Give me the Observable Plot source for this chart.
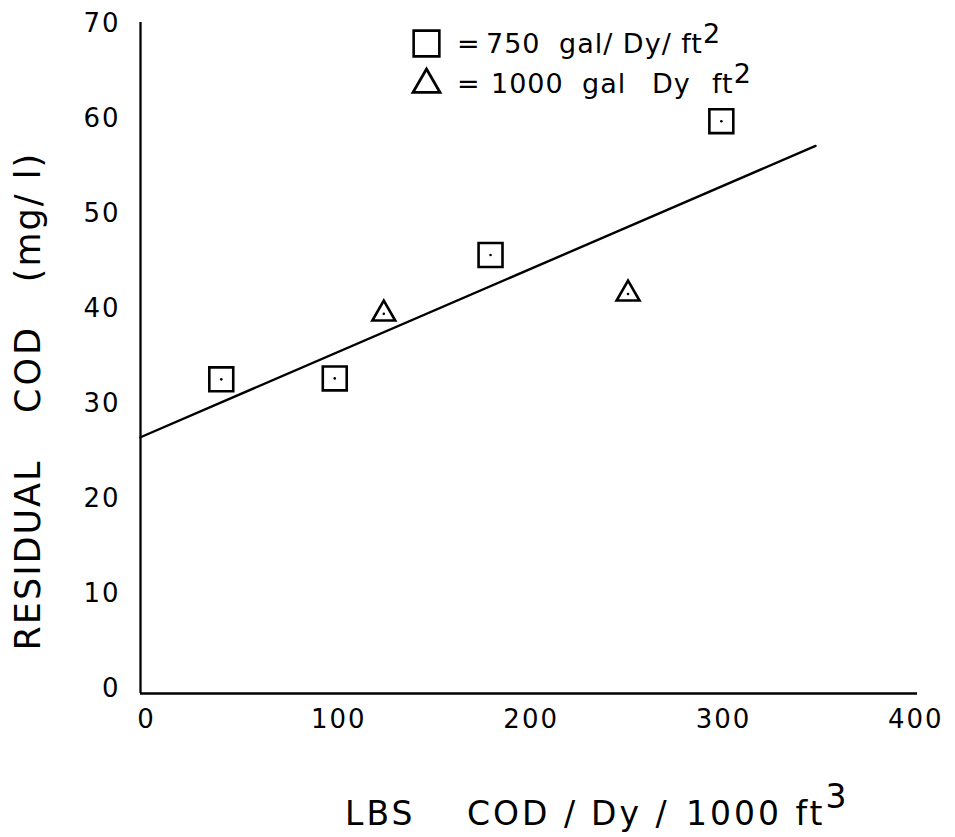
<!DOCTYPE html>
<html>
<head>
<meta charset="utf-8">
<script src="https://cdn.jsdelivr.net/npm/d3@7"></script>
<script src="https://cdn.jsdelivr.net/npm/@observablehq/plot@0.6"></script>
<style>
  html, body { margin: 0; padding: 0; background: #fff; }
  #wrap { position: relative; width: 955px; height: 837px; overflow: hidden; font-family: "DejaVu Sans", sans-serif; color: #000; }
  #wrap svg text { letter-spacing: 2px; }
  .t { position: absolute; white-space: pre; line-height: 1; }
  .lg { font-size: 27px; letter-spacing: 1px; }
  .xt { font-size: 33px; letter-spacing: 3px; }
  .up { position: relative; }
  .yt { position: absolute; left: 28px; white-space: pre; line-height: 1; font-size: 35px;
        transform: translate(-50%, -50%) rotate(-90deg); }
</style>
</head>
<body>
<div id="wrap">
  <div id="chart"></div>
  <!-- y axis title, one word group at a time -->
  <span class="yt" style="top:555px; letter-spacing:2px">RESIDUAL</span>
  <span class="yt" style="top:369px; letter-spacing:3px">COD</span>
  <span class="yt" style="top:217px; letter-spacing:2px">(mg/ l)</span>
  <!-- legend rows -->
  <span class="t lg" style="left:457px; top:30px">=</span>
  <span class="t lg" style="left:486px; top:30px">750</span>
  <span class="t lg" style="left:559px; top:30px">gal/ Dy/ ft<span class="up" style="top:-10px">2</span></span>
  <span class="t lg" style="left:457px; top:70px">=</span>
  <span class="t lg" style="left:491px; top:70px">1000</span>
  <span class="t lg" style="left:582px; top:70px">gal</span>
  <span class="t lg" style="left:652px; top:70px">Dy</span>
  <span class="t lg" style="left:712px; top:70px">ft<span class="up" style="top:-10px">2</span></span>
  <!-- x axis title -->
  <span class="t xt" style="left:345px; top:797px">LBS</span>
  <span class="t xt" style="left:467px; top:797px">COD /</span>
  <span class="t xt" style="left:591px; top:797px">Dy /</span>
  <span class="t xt" style="left:686px; top:797px">1000 ft<span class="up" style="top:-17px">3</span></span>
</div>
<script>
// Residual COD against organic loading, two hydraulic loading rates
const squareX = [42, 101, 182, 302];       // 750 gal/Dy/ft2
const squareY = [33.1, 33.2, 46.2, 60.3];
const triangleX = [126.5, 253.5];          // 1000 gal/Dy/ft2
const triangleY = [40.0, 42.1];
const fitX = [0, 351];                     // fitted straight line
const fitY = [27.0, 57.7];
const xTicks = [0, 100, 200, 300, 400];
const yTicks = [0, 10, 20, 30, 40, 50, 60, 70];

const squares = squareX.map((x, i) => ({x, y: squareY[i]}));
const triangles = triangleX.map((x, i) => ({x, y: triangleY[i]}));
const fit = fitX.map((x, i) => ({x, y: fitY[i]}));
const all = squares.concat(triangles);

const chart = Plot.plot({
  width: 955,
  height: 760,
  marginLeft: 140,
  marginRight: 38,
  marginTop: 22,
  marginBottom: 67,
  x: {domain: [0, 404]},
  y: {domain: [0, 70.7]},
  style: {fontFamily: "DejaVu Sans", background: "white", color: "black", overflow: "visible"},
  marks: [
    Plot.axisX(xTicks, {tickSize: 0, tickPadding: 16, fontSize: 26, dx: 6, label: null}),
    Plot.axisY(yTicks, {tickSize: 0, tickPadding: 20, fontSize: 26, dy: -5, label: null}),
    Plot.ruleX([0], {stroke: "black", strokeWidth: 2.3}),
    Plot.ruleY([0], {stroke: "black", strokeWidth: 2.3}),
    Plot.line(fit, {x: "x", y: "y", stroke: "black", strokeWidth: 2.4}),
    Plot.dot(squares, {x: "x", y: "y", symbol: "square", r: 13.5, stroke: "black", strokeWidth: 2.6, fill: "none"}),
    Plot.dot(triangles, {x: "x", y: "y", symbol: "triangle", r: 8.5, stroke: "black", strokeWidth: 2.6, fill: "none"}),
    Plot.dot(all, {x: "x", y: "y", r: 1.3, fill: "black"}),
    // legend symbols
    Plot.dot([0], {frameAnchor: "top-left", dx: 286, dy: 21, symbol: "square", r: 14.5, stroke: "black", strokeWidth: 2.6, fill: "none"}),
    Plot.dot([0], {frameAnchor: "top-left", dx: 286, dy: 62, symbol: "triangle", r: 10, stroke: "black", strokeWidth: 2.8, fill: "none"})
  ]
});
document.getElementById("chart").appendChild(chart);
</script>
</body>
</html>
